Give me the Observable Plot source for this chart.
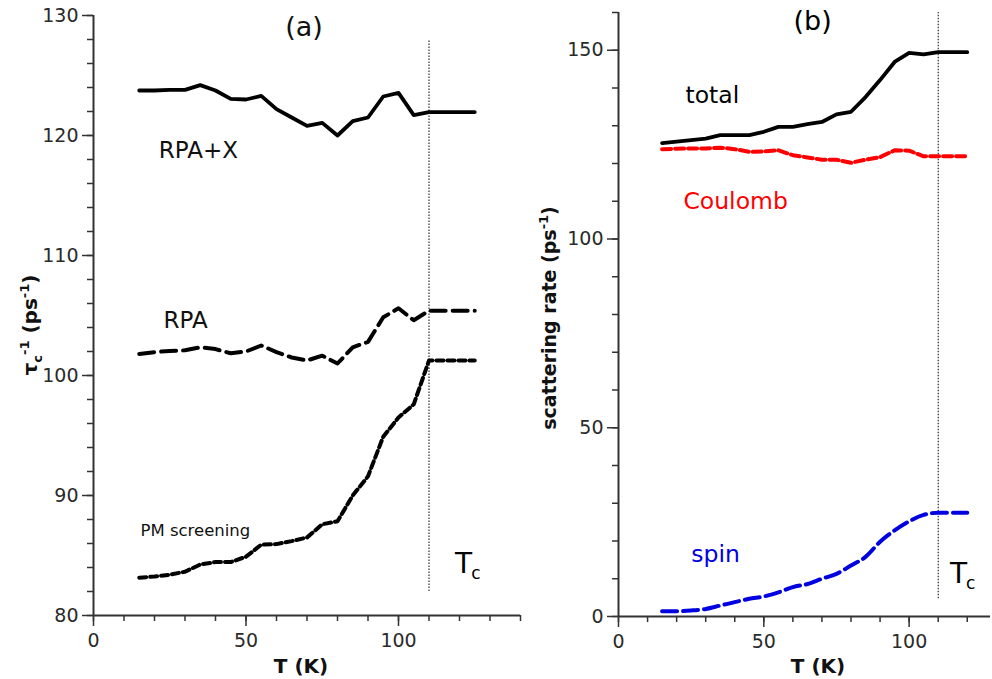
<!DOCTYPE html>
<html><head><meta charset="utf-8">
<script src="https://cdn.jsdelivr.net/npm/d3@7"></script>
<script src="https://cdn.jsdelivr.net/npm/@observablehq/plot@0.6"></script>
<style>
html,body{margin:0;padding:0;background:#fff;}
#wrap{display:flex;width:992px;height:679px;overflow:hidden;}
svg text{font-family:"DejaVu Sans";}
</style></head><body><div id="wrap"></div>
<script>
// ---------- data: panel (a) ----------
const T_a   = [15,20,25,30,35,40,45,50,55,60,65,70,75,80,85,90,95,100,105,110,125];
const rpaX  = [123.75,123.75,123.8,123.8,124.2,123.75,123.05,123.0,123.3,122.2,121.5,120.8,121.05,120.0,121.2,121.5,123.25,123.55,121.7,121.95,121.95];
const rpa   = [101.8,101.95,102.05,102.1,102.35,102.2,101.85,102.0,102.5,101.95,101.5,101.25,101.65,101.0,102.35,102.8,104.85,105.6,104.6,105.4,105.4];
const pmScr = [83.15,83.25,83.4,83.65,84.25,84.45,84.45,84.9,85.9,85.95,86.2,86.5,87.6,87.85,90.0,91.6,94.9,96.5,97.6,101.25,101.25];
// ---------- data: panel (b) ----------
const T_b     = [15,20,25,30,35,40,45,50,55,60,65,70,75,80,85,90,95,100,105,110,120];
const total   = [125.4,125.8,126.2,126.6,127.5,127.5,127.5,128.4,129.7,129.7,130.4,131.0,133.0,133.7,137.6,142.1,146.9,149.3,148.9,149.5,149.5];
const coulomb = [123.8,123.9,124.0,124.0,124.2,123.8,123.1,123.2,123.5,122.2,121.6,121.0,121.0,120.2,121.0,121.7,123.5,123.4,121.9,121.9,121.9];
const spin    = [1.4,1.4,1.6,2.0,2.9,3.8,4.7,5.3,6.4,7.8,8.6,10.0,11.3,13.5,15.8,19.8,22.8,25.2,26.9,27.5,27.5];
const Tc = 110;
// tick values
const xMajor = [0,50,100];
const xMinorA = d3.range(0,141,10);
const xMinorB = d3.range(0,121,10);
const yMajorA = [80,90,100,110,120,130];
const yMinorA = d3.range(80,131,2);
const yMajorB = [0,50,100,150];
const yMinorB = d3.range(0,161,10);
// annotations (data units)
const labelsA = [
  {text:"RPA+X", T:34.4, v:118.75, size:23},
  {text:"RPA", T:30.2, v:104.6, size:23},
  {text:"PM screening", T:33.4, v:87.1, size:16.5},
  {text:"(a)", T:69, v:129, size:27}
];
const labelsB = [
  {text:"total", T:32.3, v:138.1, size:23.5, color:"#000"},
  {text:"Coulomb", T:40.3, v:110, size:23.5, color:"#ff0000"},
  {text:"spin", T:33.4, v:16.4, size:23.5, color:"#0000e0"},
  {text:"(b)", T:66.8, v:157.7, size:27, color:"#000"}
];
const tcLabelA = {T:118.7, v:84.3};
const tcLabelB = {T:114.2, v:11.4};
const tcLineA = [{T:Tc, lo:82, hi:128}];
const tcLineB = [{T:Tc, lo:4.7, hi:160}];

const rowsA = T_a.map((t,i)=>({T:t, rpaX:rpaX[i], rpa:rpa[i], pm:pmScr[i]}));
const rowsB = T_b.map((t,i)=>({T:t, total:total[i], coulomb:coulomb[i], spin:spin[i]}));

const axisColor = "#333";
const baseStyle = {fontFamily:"DejaVu Sans", fontSize:"19px", color:axisColor, background:"white", overflow:"visible"};

function axes(xMinor, yMinor, yMajor, xMin, yMin) {
  return [
    Plot.axisX({ticks:xMinor, tickSize:6, tickFormat:()=>"", label:null, strokeWidth:1.5}),
    Plot.axisX({ticks:xMajor, tickSize:11, tickPadding:7, label:null, strokeWidth:1.5, fill:"#2a2a2a"}),
    Plot.axisY({ticks:yMinor, tickSize:6, tickFormat:()=>"", label:null, strokeWidth:1.5}),
    Plot.axisY({ticks:yMajor, tickSize:11, tickPadding:4, label:null, strokeWidth:1.5, fill:"#2a2a2a"}),
    Plot.ruleX([xMin], {stroke:axisColor, strokeWidth:2}),
    Plot.ruleY([yMin], {stroke:axisColor, strokeWidth:2})
  ];
}

const figA = Plot.plot({
  width:540, height:679,
  marginLeft:93, marginRight:20, marginTop:15, marginBottom:64,
  x:{domain:[0,140]}, y:{domain:[80,130]},
  style: baseStyle,
  marks: [
    ...axes(xMinorA, yMinorA, yMajorA, 0, 80),
    Plot.ruleX(tcLineA, {x:"T", y1:"lo", y2:"hi", stroke:"#000", strokeWidth:1, strokeDasharray:"1.5,1.5"}),
    Plot.line(rowsA, {x:"T", y:"rpaX", stroke:"#000", strokeWidth:3.8}),
    Plot.line(rowsA, {x:"T", y:"rpa", stroke:"#000", strokeWidth:4, strokeDasharray:"15,7"}),
    Plot.line(rowsA, {x:"T", y:"pm", stroke:"#000", strokeWidth:4, strokeDasharray:"7,4"}),
    ...labelsA.map(d => Plot.text([d], {x:"T", y:"v", text:"text", fontSize:d.size, fill:"#111"}))
  ]
});

const figB = Plot.plot({
  width:452, height:679,
  marginLeft:78, marginRight:2, marginTop:12, marginBottom:63,
  x:{domain:[0,128]}, y:{domain:[0,160]},
  style: baseStyle,
  marks: [
    ...axes(xMinorB, yMinorB, yMajorB, 0, 0),
    Plot.ruleX(tcLineB, {x:"T", y1:"lo", y2:"hi", stroke:"#000", strokeWidth:1, strokeDasharray:"1.5,1.5"}),
    Plot.line(rowsB, {x:"T", y:"total", stroke:"#000", strokeWidth:3.8}),
    Plot.line(rowsB, {x:"T", y:"coulomb", stroke:"#ff0000", strokeWidth:4, strokeDasharray:"9,4"}),
    Plot.line(rowsB, {x:"T", y:"spin", stroke:"#0000e0", strokeWidth:4, strokeDasharray:"15,6", curve:"monotone-x"}),
    ...labelsB.map(d => Plot.text([d], {x:"T", y:"v", text:"text", fontSize:d.size, fill:d.color}))
  ]
});

const wrap = document.getElementById("wrap");
wrap.appendChild(figA);
wrap.appendChild(figB);

// T_c labels as one text element each, positioned through the plot scales
function tcText(fig, lab) {
  const px = fig.scale("x").apply(lab.T), py = fig.scale("y").apply(lab.v);
  const t = d3.select(fig).append("text")
    .attr("x", px).attr("y", py + 10).attr("text-anchor","start")
    .attr("fill","#000").attr("font-size",28);
  t.append("tspan").text("T");
  t.append("tspan").attr("font-size",17).attr("dy",6).attr("dx",-1).text("c");
}
tcText(figA, tcLabelA);
tcText(figB, tcLabelB);

// axis titles with sub/superscripts
function xTitle(svg, cx) {
  d3.select(svg).append("text")
    .attr("x", cx).attr("y", 673).attr("text-anchor","middle")
    .attr("font-weight","bold").attr("font-size",20).attr("fill","#111")
    .text("T (K)");
}
xTitle(figA, 301);
xTitle(figB, 818 - 540);

const ya = d3.select(figA).append("text")
  .attr("transform","translate(37,325) rotate(-90)")
  .attr("text-anchor","middle").attr("font-weight","bold").attr("font-size",20).attr("fill","#111");
ya.append("tspan").text("τ");
ya.append("tspan").attr("font-size",13).attr("dy",5).text("c");
ya.append("tspan").attr("font-size",13).attr("dy",-13).text("-1");
ya.append("tspan").attr("dy",8).text(" (ps");
ya.append("tspan").attr("font-size",13).attr("dy",-8).text("-1");
ya.append("tspan").attr("dy",8).text(")");

const yb = d3.select(figB).append("text")
  .attr("transform","translate(" + (556-540) + ",318) rotate(-90)")
  .attr("text-anchor","middle").attr("font-weight","bold").attr("font-size",19).attr("fill","#111");
yb.append("tspan").text("scattering rate (ps");
yb.append("tspan").attr("font-size",13).attr("dy",-8).text("-1");
yb.append("tspan").attr("dy",8).text(")");
</script>
</body></html>
